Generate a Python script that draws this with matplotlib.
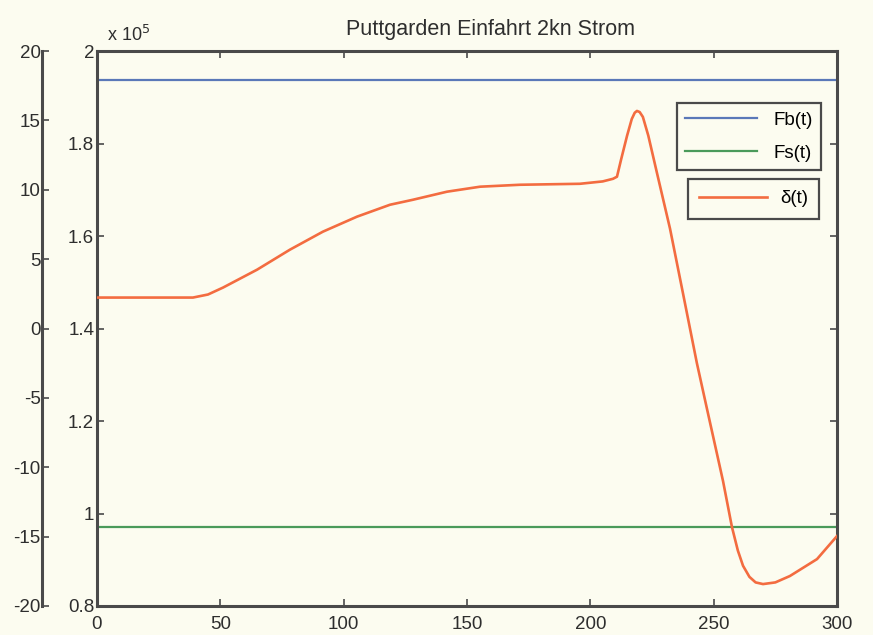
import matplotlib
matplotlib.use("Agg")
import matplotlib.pyplot as plt

# ---- data ----
t_delta = [0, 38.9, 45.0, 51.1, 64.9, 78.2, 91.6, 105.4, 118.8, 128.1, 141.9, 155.3,
           171.5, 195.8, 205.0, 209.2, 210.8, 212.5, 214.9, 216.8, 218.0, 218.9,
           220.0, 221.3, 223.5, 227.0, 232.3, 237.6, 243.2, 247.3, 253.8, 257.4,
           259.8, 261.9, 264.5, 267.0, 270.0, 275.0, 280.9, 291.9, 300]
delta = [2.23, 2.23, 2.45, 2.95, 4.24, 5.68, 6.98, 8.06, 8.92, 9.28, 9.86, 10.22,
         10.36, 10.43, 10.6, 10.79, 10.94, 12.2, 13.9, 15.1, 15.55, 15.68,
         15.6, 15.25, 13.9, 11.22, 7.2, 2.5, -2.5, -5.8, -11.0, -14.3,
         -16.0, -17.1, -17.9, -18.3, -18.42, -18.3, -17.84, -16.62, -14.96]
t_const = [0, 300]
Fb = [1.937, 1.937]   # x 10^5
Fs = [0.970, 0.970]   # x 10^5

x_ticks = [0, 50, 100, 150, 200, 250, 300]
right_ticks = [0.8, 1.0, 1.2, 1.4, 1.6, 1.8, 2.0]
right_labels = ["0.8", "1", "1.2", "1.4", "1.6", "1.8", "2"]
left_ticks = [-20, -15, -10, -5, 0, 5, 10, 15, 20]
left_labels = ["-20", "-15", "-10", "-5", "0", "5", "10", "15", "20"]

title = "Puttgarden Einfahrt 2kn Strom"

# ---- style ----
BG = "#fcfcf0"
EDGE = "#4a4a4a"
TXT = "#2e2e2e"
C_FB = "#5a78b8"
C_FS = "#4a9a5a"
C_D = "#f36c40"
plt.rcParams["font.family"] = ["Liberation Sans", "DejaVu Sans"]
FS = 13.5

W, H = 873, 635
fig = plt.figure(figsize=(W / 100, H / 100), dpi=100, facecolor=BG)

def fx(p):
    return p / W

def fy(p):
    return 1 - p / H

L, R, T, B = 97, 837, 51, 606
ax = fig.add_axes([fx(L), fy(B), fx(R - L), fy(T) - fy(B)])
ax.set_facecolor(BG)
ax.set_xlim(0, 300)
ax.set_ylim(0.8, 2.0)
ax.set_xticks(x_ticks)
ax.set_xticklabels([str(v) for v in x_ticks])
ax.set_yticks(right_ticks)
ax.set_yticklabels(right_labels)
ax.tick_params(direction="in", length=5, width=1.2, color=EDGE, labelsize=FS,
               top=True, right=True, pad=2, labelcolor=TXT)
ax.tick_params(axis="x", pad=7)
for s in ax.spines.values():
    s.set_color(EDGE)
    s.set_linewidth(2.2)

l1, = ax.plot(t_const, Fb, color=C_FB, lw=1.6, label="Fb(t)")
l2, = ax.plot(t_const, Fs, color=C_FS, lw=1.6, label="Fs(t)")

# outer left axis for delta
ax2 = fig.add_axes([fx(42), fy(B), fx(R - 42), fy(T) - fy(B)])
ax2.patch.set_alpha(0)
ax2.set_ylim(-20, 20)
ax2.set_xlim(0, 1)
for name, s in ax2.spines.items():
    s.set_visible(name == "left")
ax2.spines["left"].set_color(EDGE)
ax2.spines["left"].set_linewidth(2.2)
ax2.set_xticks([])
ax2.set_yticks(left_ticks)
ax2.set_yticklabels(left_labels)
ax2.tick_params(axis="y", direction="in", length=5, width=1.2, color=EDGE,
                labelsize=FS, pad=1, labelcolor=TXT)

# delta curve on the outer (left) scale
ax3 = fig.add_axes(ax.get_position())
ax3.patch.set_alpha(0)
ax3.set_xlim(0, 300)
ax3.set_ylim(-20, 20)
ax3.axis("off")
l3, = ax3.plot(t_delta, delta, color=C_D, lw=1.9, label="δ(t)")

ax.text(0.013, 1.01, r"x 10$^5$", transform=ax.transAxes, fontsize=FS - 0.5,
        color=TXT, ha="left", va="bottom")
fig.text(fx(490), fy(29), title, fontsize=15.5, color=TXT,
         ha="center", va="center")

leg1 = ax3.legend(handles=[l1, l2], loc="upper left",
                  bbox_to_anchor=(fx(677), fy(103)), bbox_transform=fig.transFigure,
                  fontsize=FS, frameon=True, fancybox=False, handlelength=3.8,
                  borderpad=0.45, labelspacing=0.85, handletextpad=0.9,
                  borderaxespad=0)
leg1.get_frame().set_edgecolor(EDGE)
leg1.get_frame().set_facecolor(BG)
leg1.get_frame().set_linewidth(1.6)
leg1.get_frame().set_alpha(1)
ax3.add_artist(leg1)
leg2 = ax3.legend(handles=[l3], loc="upper left",
                  bbox_to_anchor=(fx(688), fy(179)), bbox_transform=fig.transFigure,
                  fontsize=FS, frameon=True, fancybox=False, handlelength=3.6,
                  borderpad=0.6, handletextpad=0.7, borderaxespad=0)
leg2.get_frame().set_edgecolor(EDGE)
leg2.get_frame().set_facecolor(BG)
leg2.get_frame().set_linewidth(1.6)
leg2.get_frame().set_alpha(1)

fig.savefig("out.png", dpi=100, facecolor=BG)
